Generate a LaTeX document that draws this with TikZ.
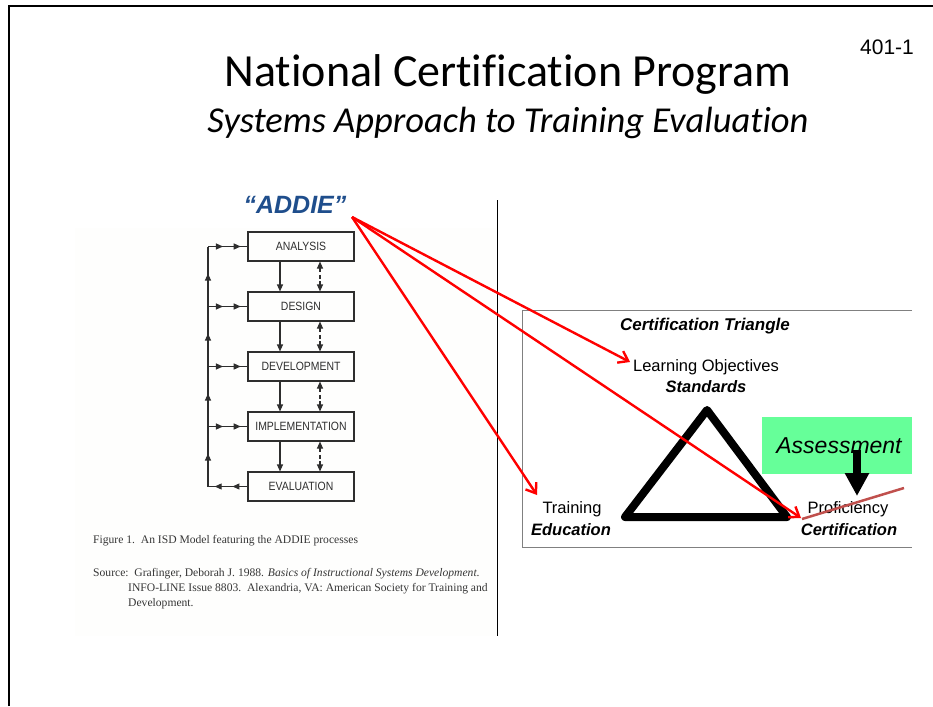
\documentclass[tikz,border=0pt]{standalone}
\usepackage{fontspec}
\setmainfont{Liberation Sans}
\newfontfamily\calib[Ligatures=NoCommon]{Carlito}
\newfontfamily\timesf{Liberation Serif}
\newfontfamily\narrowf[FakeStretch=0.87]{Liberation Sans}
\usetikzlibrary{arrows.meta,decorations.markings}
\definecolor{addieblue}{HTML}{1F4E8C}
\definecolor{assessgreen}{HTML}{66FF99}
\definecolor{brownred}{HTML}{C0504D}
\definecolor{scan}{HTML}{2E2E2E}
\definecolor{scanbg}{HTML}{FEFEFD}
\definecolor{capgray}{HTML}{363636}
\tikzset{
  addiebox/.style={draw=scan, line width=1.1pt, minimum width=106pt, minimum height=29pt, inner sep=0pt,
    text=scan, font=\narrowf\fontsize{12}{13}\selectfont},
  downarr/.style={draw=scan, line width=1.1pt, -{Triangle[length=7pt,width=6pt]}},
  dasharr/.style={draw=scan, line width=1.1pt, dashed, dash pattern=on 4pt off 2.5pt, {Triangle[length=7pt,width=6pt]}-{Triangle[length=7pt,width=6pt]}},
  fbline/.style={draw=scan, line width=1.1pt},
  midup/.style={fbline, postaction=decorate, decoration={markings, mark=at position 0.55 with {\arrow{Triangle[length=7pt,width=6pt]}}}},
  twoheads/.style={fbline, postaction=decorate, decoration={markings,
      mark=at position 0.38 with {\arrow{Triangle[length=7pt,width=6pt]}},
      mark=at position 0.83 with {\arrow{Triangle[length=7pt,width=6pt]}}}},
  redarr/.style={draw=red, line width=2.4pt, -{Straight Barb[length=9pt,width=13pt,line width=2.4pt]}},
  captxt/.style={anchor=west, inner sep=0pt, text=capgray, font=\timesf\fontsize{11.6}{14}\selectfont},
  plain/.style={inner sep=0pt, font=\fontsize{16.5}{19}\selectfont},
  boldit/.style={inner sep=0pt, font=\bfseries\itshape\fontsize{16.5}{19}\selectfont}
}
\begin{document}
\begin{tikzpicture}[x=1pt,y=-1pt]
\useasboundingbox (0,0) rectangle (933,706);
% scanned figure background
\fill[scanbg] (75,228) rectangle (496,636);
% frame
\draw[line width=2.5pt] (9,706) -- (9,6) -- (933,6);
% titles
\node[inner sep=0pt] (title) at (508,74) {\calib\fontsize{46}{54}\selectfont National Certification Program};
\node[inner sep=0pt] (subtitle) at (508,123) {\calib\itshape\fontsize{36.5}{42}\selectfont Systems Approach to Training Evaluation};
\node[inner sep=0pt] (num) at (887,47) {\fontsize{21}{24}\selectfont 401-1};
% divider
\draw[line width=1pt] (497,200) -- (497,636);
% ADDIE label
\node[inner sep=0pt, text=addieblue] (addie) at (295,205) {\bfseries\itshape\fontsize{25}{28}\selectfont ``ADDIE''};
\coordinate (addieEnd) at (352,217);
% ADDIE boxes
\node[addiebox] (ana) at (301,246.5) {ANALYSIS};
\node[addiebox] (des) at (301,306.5) {DESIGN};
\node[addiebox] (dev) at (301,366.5) {DEVELOPMENT};
\node[addiebox] (imp) at (301,426.5) {IMPLEMENTATION};
\node[addiebox] (eva) at (301,486.5) {EVALUATION};
\foreach \a/\b in {ana/des,des/dev,dev/imp,imp/eva}{
  \draw[downarr] ([xshift=-21pt]\a.south) -- ([xshift=-21pt]\b.north);
  \draw[dasharr] ([xshift=19pt]\a.south) -- ([xshift=19pt]\b.north);
}
% feedback loop
\coordinate (fana) at (208,246.5);
\coordinate (fdes) at (208,306.5);
\coordinate (fdev) at (208,366.5);
\coordinate (fimp) at (208,426.5);
\coordinate (feva) at (208,486.5);
\draw[midup] (feva) -- (fimp);
\draw[midup] (fimp) -- (fdev);
\draw[midup] (fdev) -- (fdes);
\draw[midup] (fdes) -- (fana);
\draw[twoheads] (fana) -- (ana.west);
\draw[twoheads] (fdes) -- (des.west);
\draw[twoheads] (fdev) -- (dev.west);
\draw[twoheads] (fimp) -- (imp.west);
\draw[twoheads] (eva.west) -- (feva);
% caption
\node[captxt] (cap1) at (93,541) {Figure 1.\ \ An ISD Model featuring the ADDIE processes};
\node[captxt] (cap2) at (93,574) {Source:\ \ Grafinger, Deborah J. 1988. \textit{Basics of Instructional Systems Development}.};
\node[captxt] (cap3) at (128,589) {INFO-LINE Issue 8803.\ \ Alexandria, VA: American Society for Training and};
\node[captxt] (cap4) at (128,604) {Development.};
% certification box
\draw[draw=gray, line width=1pt] (912,310) -- (522,310) -- (522,547) -- (912,547);
\node[boldit, font=\bfseries\itshape\fontsize{17}{20}\selectfont] (ctri) at (705,326) {Certification Triangle};
\node[plain] (lo) at (706,367) {Learning Objectives};
\node[boldit] (std) at (706,387) {Standards};
\node[plain] (trn) at (572,509) {Training};
\node[boldit] (edu) at (571,530) {Education};
\node[plain] (prof) at (848,509) {Proficiency};
\node[boldit] (cert) at (849,530) {Certification};
% triangle
\coordinate (tA) at (707,410);
\coordinate (tR) at (787,517);
\coordinate (tL) at (625,517);
\draw[line width=8pt, line join=round, line cap=round] (tA) -- (tR) -- (tL) -- cycle;
% assessment
\node[fill=assessgreen, minimum width=150pt, minimum height=57pt, inner sep=0pt] (assess) at (837,445.5) {};
\node[inner sep=0pt] (assesstxt) at (839,446) {\itshape\fontsize{23}{27}\selectfont Assessment};
\coordinate (bkTop) at (857,450);
\coordinate (bkTip) at (857,496);
\draw[line width=8pt, -{Triangle[length=23pt,width=23pt]}] (bkTop) -- (bkTip);
% brown line
\coordinate (brA) at (802,519);
\coordinate (brB) at (904,488);
\draw[brownred, line width=2.5pt] (brA) -- (brB);
% red arrows
\coordinate (loEnd) at (630,362);
\coordinate (profEnd) at (801,518);
\coordinate (trnEnd) at (537,495);
\draw[redarr] (addieEnd) -- (loEnd);
\draw[redarr] (addieEnd) -- (profEnd);
\draw[redarr] (addieEnd) -- (trnEnd);
\end{tikzpicture}
\end{document}
